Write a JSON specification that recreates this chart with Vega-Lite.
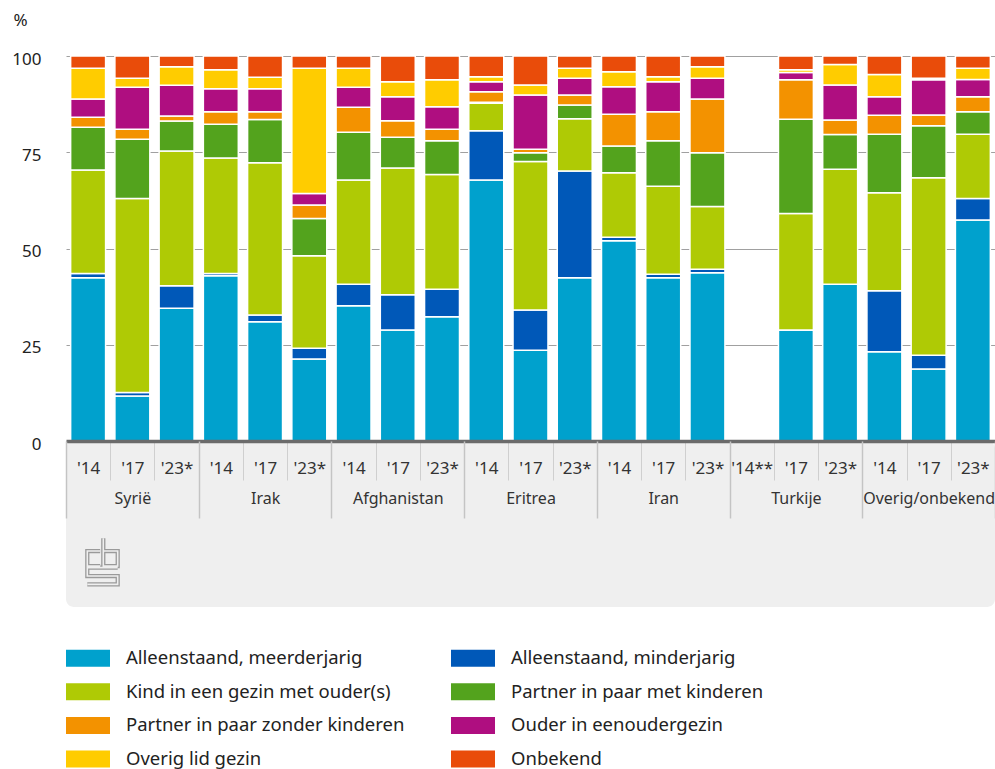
{
  "$schema": "https://vega.github.io/schema/vega-lite/v6.json",
  "padding": {"left": 11, "top": 11, "right": 0, "bottom": 0},
  "background": "white",
  "bounds": "flush",
  "spacing": 0,
  "config": {"font": "Noto Sans", "view": {"stroke": null}},
  "data": {"values": [
    {"land": "Syrië", "bar": "Syrië '14", "Alleenstaand, meerderjarig": 42.4, "Alleenstaand, minderjarig": 1.1, "Kind in een gezin met ouder(s)": 26.9, "Partner in paar met kinderen": 11.1, "Partner in paar zonder kinderen": 2.6, "Ouder in eenoudergezin": 4.7, "Overig lid gezin": 8.0, "Onbekend": 3.2},
    {"land": "Syrië", "bar": "Syrië '17", "Alleenstaand, meerderjarig": 11.7, "Alleenstaand, minderjarig": 0.9, "Kind in een gezin met ouder(s)": 50.4, "Partner in paar met kinderen": 15.4, "Partner in paar zonder kinderen": 2.6, "Ouder in eenoudergezin": 10.9, "Overig lid gezin": 2.3, "Onbekend": 5.8},
    {"land": "Syrië", "bar": "Syrië '23*", "Alleenstaand, meerderjarig": 34.5, "Alleenstaand, minderjarig": 5.8, "Kind in een gezin met ouder(s)": 35.0, "Partner in paar met kinderen": 7.8, "Partner in paar zonder kinderen": 1.3, "Ouder in eenoudergezin": 8.0, "Overig lid gezin": 4.8, "Onbekend": 2.8},
    {"land": "Irak", "bar": "Irak '14", "Alleenstaand, meerderjarig": 42.9, "Alleenstaand, minderjarig": 0.6, "Kind in een gezin met ouder(s)": 30.0, "Partner in paar met kinderen": 8.8, "Partner in paar zonder kinderen": 3.2, "Ouder in eenoudergezin": 6.0, "Overig lid gezin": 4.9, "Onbekend": 3.6},
    {"land": "Irak", "bar": "Irak '17", "Alleenstaand, meerderjarig": 31.0, "Alleenstaand, minderjarig": 1.7, "Kind in een gezin met ouder(s)": 39.6, "Partner in paar met kinderen": 11.2, "Partner in paar zonder kinderen": 2.0, "Ouder in eenoudergezin": 6.0, "Overig lid gezin": 3.0, "Onbekend": 5.5},
    {"land": "Irak", "bar": "Irak '23*", "Alleenstaand, meerderjarig": 21.3, "Alleenstaand, minderjarig": 2.8, "Kind in een gezin met ouder(s)": 24.0, "Partner in paar met kinderen": 9.7, "Partner in paar zonder kinderen": 3.5, "Ouder in eenoudergezin": 3.0, "Overig lid gezin": 32.5, "Onbekend": 3.2},
    {"land": "Afghanistan", "bar": "Afghanistan '14", "Alleenstaand, meerderjarig": 35.1, "Alleenstaand, minderjarig": 5.6, "Kind in een gezin met ouder(s)": 27.1, "Partner in paar met kinderen": 12.4, "Partner in paar zonder kinderen": 6.5, "Ouder in eenoudergezin": 5.2, "Overig lid gezin": 4.9, "Onbekend": 3.2},
    {"land": "Afghanistan", "bar": "Afghanistan '17", "Alleenstaand, meerderjarig": 28.8, "Alleenstaand, minderjarig": 9.2, "Kind in een gezin met ouder(s)": 32.9, "Partner in paar met kinderen": 8.0, "Partner in paar zonder kinderen": 4.3, "Ouder in eenoudergezin": 6.2, "Overig lid gezin": 3.9, "Onbekend": 6.7},
    {"land": "Afghanistan", "bar": "Afghanistan '23*", "Alleenstaand, meerderjarig": 32.3, "Alleenstaand, minderjarig": 7.1, "Kind in een gezin met ouder(s)": 29.8, "Partner in paar met kinderen": 8.8, "Partner in paar zonder kinderen": 3.0, "Ouder in eenoudergezin": 5.8, "Overig lid gezin": 7.0, "Onbekend": 6.2},
    {"land": "Eritrea", "bar": "Eritrea '14", "Alleenstaand, meerderjarig": 67.8, "Alleenstaand, minderjarig": 12.8, "Kind in een gezin met ouder(s)": 7.1, "Partner in paar met kinderen": 0.3, "Partner in paar zonder kinderen": 2.7, "Ouder in eenoudergezin": 2.6, "Overig lid gezin": 1.3, "Onbekend": 5.4},
    {"land": "Eritrea", "bar": "Eritrea '17", "Alleenstaand, meerderjarig": 23.6, "Alleenstaand, minderjarig": 10.4, "Kind in een gezin met ouder(s)": 38.6, "Partner in paar met kinderen": 2.3, "Partner in paar zonder kinderen": 0.9, "Ouder in eenoudergezin": 14.1, "Overig lid gezin": 2.6, "Onbekend": 7.5},
    {"land": "Eritrea", "bar": "Eritrea '23*", "Alleenstaand, meerderjarig": 42.4, "Alleenstaand, minderjarig": 27.7, "Kind in een gezin met ouder(s)": 13.6, "Partner in paar met kinderen": 3.6, "Partner in paar zonder kinderen": 2.6, "Ouder in eenoudergezin": 4.3, "Overig lid gezin": 2.6, "Onbekend": 3.2},
    {"land": "Iran", "bar": "Iran '14", "Alleenstaand, meerderjarig": 52.0, "Alleenstaand, minderjarig": 0.9, "Kind in een gezin met ouder(s)": 16.8, "Partner in paar met kinderen": 6.9, "Partner in paar zonder kinderen": 8.3, "Ouder in eenoudergezin": 7.1, "Overig lid gezin": 3.9, "Onbekend": 4.1},
    {"land": "Iran", "bar": "Iran '17", "Alleenstaand, meerderjarig": 42.4, "Alleenstaand, minderjarig": 0.9, "Kind in een gezin met ouder(s)": 22.9, "Partner in paar met kinderen": 11.8, "Partner in paar zonder kinderen": 7.5, "Ouder in eenoudergezin": 7.8, "Overig lid gezin": 1.3, "Onbekend": 5.4},
    {"land": "Iran", "bar": "Iran '23*", "Alleenstaand, meerderjarig": 43.7, "Alleenstaand, minderjarig": 0.9, "Kind in een gezin met ouder(s)": 16.3, "Partner in paar met kinderen": 14.0, "Partner in paar zonder kinderen": 13.9, "Ouder in eenoudergezin": 5.4, "Overig lid gezin": 3.0, "Onbekend": 2.8},
    {"land": "Turkije", "bar": "Turkije '17", "Alleenstaand, meerderjarig": 28.8, "Alleenstaand, minderjarig": 0, "Kind in een gezin met ouder(s)": 30.3, "Partner in paar met kinderen": 24.5, "Partner in paar zonder kinderen": 10.2, "Ouder in eenoudergezin": 1.9, "Overig lid gezin": 0.7, "Onbekend": 3.6},
    {"land": "Turkije", "bar": "Turkije '23*", "Alleenstaand, meerderjarig": 40.7, "Alleenstaand, minderjarig": 0, "Kind in een gezin met ouder(s)": 29.9, "Partner in paar met kinderen": 9.0, "Partner in paar zonder kinderen": 3.8, "Ouder in eenoudergezin": 9.1, "Overig lid gezin": 5.3, "Onbekend": 2.2},
    {"land": "Overig/onbekend", "bar": "Overig/onbekend '14", "Alleenstaand, meerderjarig": 23.2, "Alleenstaand, minderjarig": 15.8, "Kind in een gezin met ouder(s)": 25.5, "Partner in paar met kinderen": 15.2, "Partner in paar zonder kinderen": 4.9, "Ouder in eenoudergezin": 4.8, "Overig lid gezin": 5.8, "Onbekend": 4.8},
    {"land": "Overig/onbekend", "bar": "Overig/onbekend '17", "Alleenstaand, meerderjarig": 18.7, "Alleenstaand, minderjarig": 3.6, "Kind in een gezin met ouder(s)": 46.1, "Partner in paar met kinderen": 13.5, "Partner in paar zonder kinderen": 2.8, "Ouder in eenoudergezin": 9.1, "Overig lid gezin": 0.4, "Onbekend": 5.8},
    {"land": "Overig/onbekend", "bar": "Overig/onbekend '23*", "Alleenstaand, meerderjarig": 57.4, "Alleenstaand, minderjarig": 5.6, "Kind in een gezin met ouder(s)": 16.7, "Partner in paar met kinderen": 5.8, "Partner in paar zonder kinderen": 3.9, "Ouder in eenoudergezin": 4.5, "Overig lid gezin": 2.9, "Onbekend": 3.2}
  ]},
  "vconcat": [
    {
      "width": 929,
      "height": 385,
      "transform": [
        {"fold": ["Alleenstaand, meerderjarig", "Alleenstaand, minderjarig", "Kind in een gezin met ouder(s)", "Partner in paar met kinderen", "Partner in paar zonder kinderen", "Ouder in eenoudergezin", "Overig lid gezin", "Onbekend"], "as": ["groep", "pct"]},
        {"window": [{"op": "row_number", "as": "rang"}], "groupby": ["bar"]}
      ],
      "mark": {"type": "bar", "stroke": "white", "strokeWidth": 1.5},
      "encoding": {
        "x": {"field": "bar", "type": "nominal", "axis": null,
          "scale": {"domain": ["Syrië '14", "Syrië '17", "Syrië '23*", "Irak '14", "Irak '17", "Irak '23*", "Afghanistan '14", "Afghanistan '17", "Afghanistan '23*", "Eritrea '14", "Eritrea '17", "Eritrea '23*", "Iran '14", "Iran '17", "Iran '23*", "Turkije '14**", "Turkije '17", "Turkije '23*", "Overig/onbekend '14", "Overig/onbekend '17", "Overig/onbekend '23*"], "paddingInner": 0.21, "paddingOuter": 0.105}},
        "y": {"field": "pct", "type": "quantitative", "stack": "zero", "scale": {"domain": [0, 100]},
          "axis": {"values": [0, 25, 50, 75, 100], "title": "%", "titleAngle": 0, "titleAlign": "left", "titleBaseline": "middle", "titleX": -53, "titleY": -36, "titleFontSize": 17, "titleFontWeight": "normal", "titleColor": "#222222", "labelFontSize": 17, "labelColor": "#222222", "labelPadding": 25, "labelOffset": 3, "domain": false, "ticks": false, "grid": true, "gridColor": "#a0a0a0", "gridWidth": 1}},
        "order": {"field": "rang", "type": "quantitative", "sort": "ascending"},
        "color": {"field": "groep", "type": "nominal",
          "scale": {"domain": ["Alleenstaand, meerderjarig", "Alleenstaand, minderjarig", "Kind in een gezin met ouder(s)", "Partner in paar met kinderen", "Partner in paar zonder kinderen", "Ouder in eenoudergezin", "Overig lid gezin", "Onbekend"],
            "range": ["#00a1cd", "#0058b8", "#afca05", "#53a31d", "#f39200", "#af0e80", "#ffcc00", "#e94c0a"]},
          "legend": {"title": null, "orient": "none", "direction": "horizontal", "legendX": 0, "legendY": 580, "columns": 2, "symbolType": "M-1,-0.386H1V0.386H-1Z", "symbolSize": 1936, "symbolStrokeWidth": 0, "symbolOpacity": 1, "labelFontSize": 18.5, "labelColor": "#222222", "labelOffset": 16, "rowPadding": 1.7, "columnPadding": 46, "labelLimit": 400}}
      }
    },
    {
      "width": 929,
      "height": 166,
      "view": {"fill": "#efefef", "cornerRadius": 8, "stroke": null},
      "layer": [
        {
          "mark": {"type": "point", "opacity": 0},
          "encoding": {
            "x": {"field": "bar", "type": "nominal",
              "scale": {"domain": ["Syrië '14", "Syrië '17", "Syrië '23*", "Irak '14", "Irak '17", "Irak '23*", "Afghanistan '14", "Afghanistan '17", "Afghanistan '23*", "Eritrea '14", "Eritrea '17", "Eritrea '23*", "Iran '14", "Iran '17", "Iran '23*", "Turkije '14**", "Turkije '17", "Turkije '23*", "Overig/onbekend '14", "Overig/onbekend '17", "Overig/onbekend '23*"], "paddingInner": 0, "paddingOuter": 0},
              "axis": {"orient": "bottom", "offset": -166, "title": null, "domain": true, "domainColor": "#6b6b6b", "domainWidth": 3.5, "ticks": true, "tickBand": "extent", "tickSize": 39, "tickColor": "#cfcfcf", "tickWidth": 1, "labelExpr": "split(datum.label, ' ')[1]", "labelFontSize": 17, "labelColor": "#333333", "labelPadding": -20, "labelAngle": 0, "labelOverlap": false, "labelBaseline": "top", "grid": false}}
          }
        },
        {
          "layer": [
            {
              "mark": {"type": "point", "opacity": 0},
              "encoding": {
                "x": {"field": "land", "type": "nominal",
                  "scale": {"domain": ["Syrië", "Irak", "Afghanistan", "Eritrea", "Iran", "Turkije", "Overig/onbekend"], "paddingInner": 0, "paddingOuter": 0},
                  "axis": {"orient": "bottom", "offset": -166, "title": null, "domain": false, "ticks": true, "tickBand": "extent", "tickSize": 77, "tickColor": "#c4c4c4", "tickWidth": 1.5, "labelFontSize": 16, "labelColor": "#333333", "labelPadding": -28, "labelAngle": 0, "labelOverlap": false, "labelBaseline": "top", "grid": false}}
              }
            },
            {
              "data": {"values": [{"land": "Syrië"}]},
              "mark": {"type": "point", "shape": "M-0.1,-0.448H-0.661V0.204H-0.1M0.035,-1V0.204H0.661V-0.448H0.035M0.661,0.274H-0.661V0.639H0.661V1H-0.661", "size": 2116, "filled": false, "stroke": "#9a9a9a", "strokeWidth": 4.2, "opacity": 1},
              "encoding": {
                "x": {"field": "land", "type": "nominal", "bandPosition": 0.275},
                "y": {"datum": 0.275, "type": "quantitative", "scale": {"domain": [0, 1]}, "axis": null}
              }
            },
            {
              "data": {"values": [{"land": "Syrië"}]},
              "mark": {"type": "point", "shape": "M-0.1,-0.448H-0.661V0.204H-0.1M0.035,-1V0.204H0.661V-0.448H0.035M0.661,0.274H-0.661V0.639H0.661V1H-0.661", "size": 2116, "filled": false, "stroke": "#efefef", "strokeWidth": 1.6, "opacity": 1},
              "encoding": {
                "x": {"field": "land", "type": "nominal", "bandPosition": 0.275},
                "y": {"datum": 0.275, "type": "quantitative", "scale": {"domain": [0, 1]}, "axis": null}
              }
            }
          ]
        }
      ],
      "resolve": {"scale": {"x": "independent"}, "axis": {"x": "independent"}}
    }
  ]
}
